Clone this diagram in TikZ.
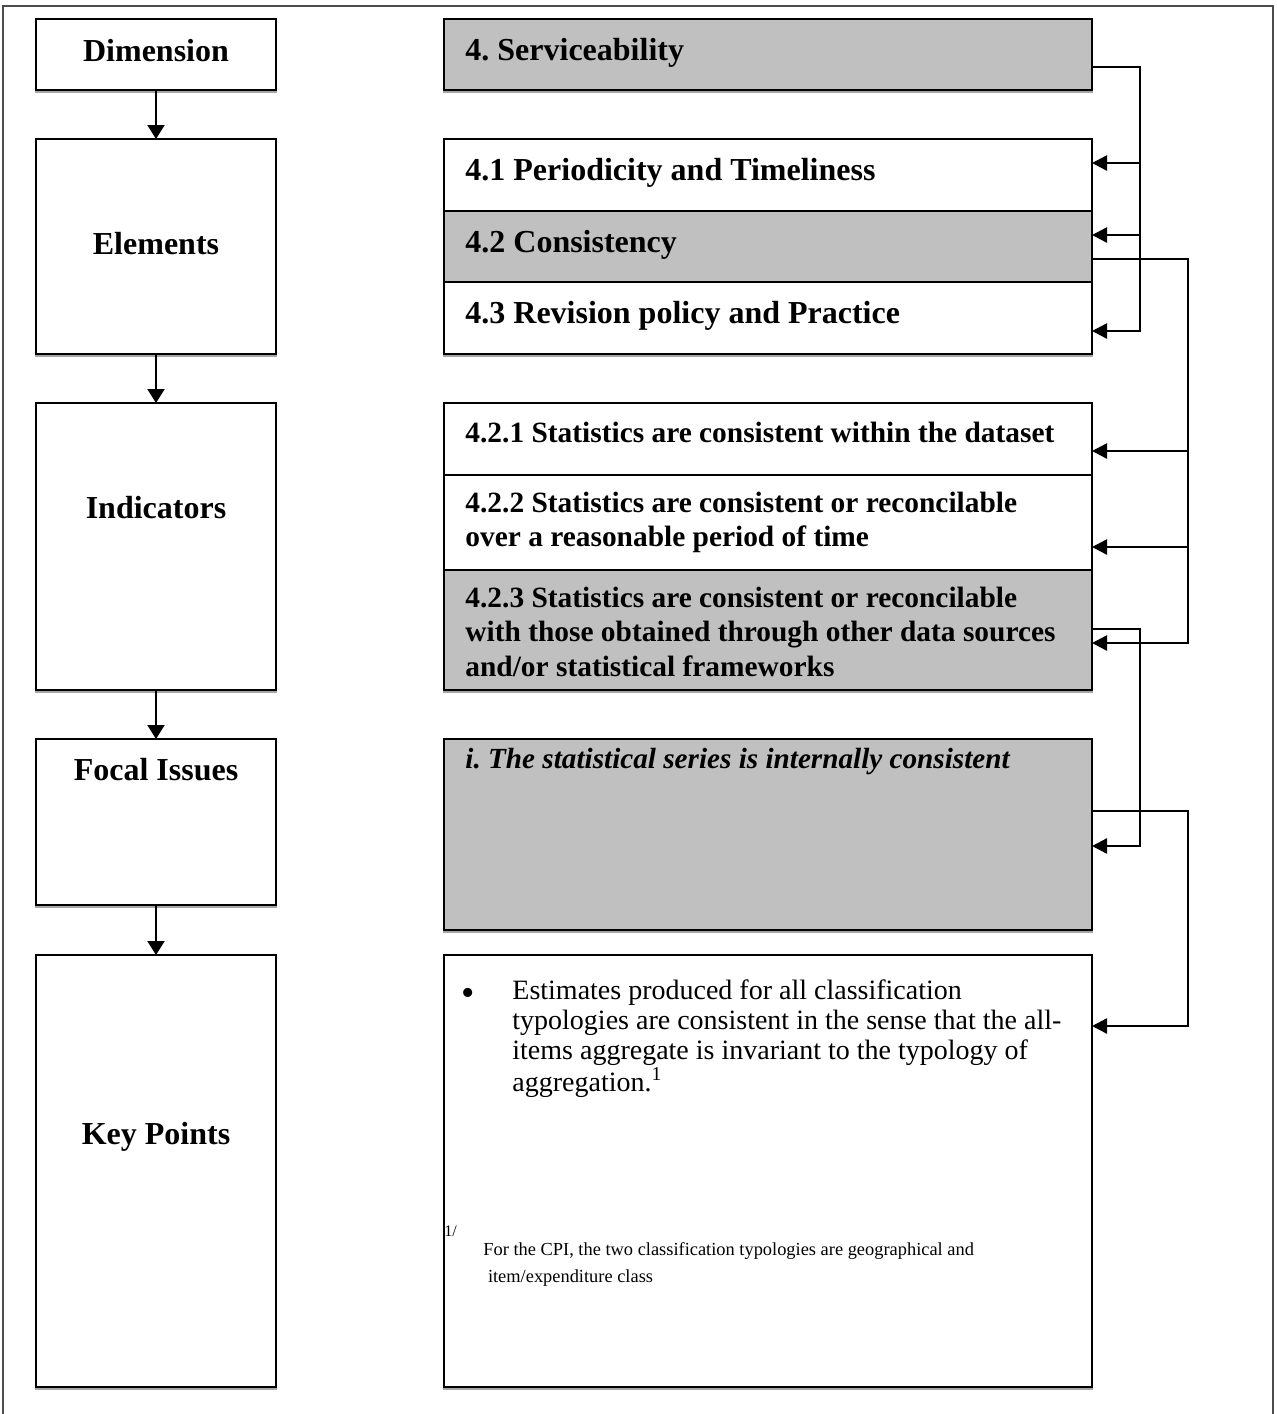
\documentclass[tikz,border=0pt]{standalone}
\usepackage{fontspec}
\setmainfont{Liberation Serif}
\usetikzlibrary{arrows.meta,calc}
\definecolor{boxgray}{RGB}{192,192,192}
\newcommand{\mlines}[1]{\begin{tabular}[t]{@{}l@{}}#1\end{tabular}}
\begin{document}
\begin{tikzpicture}[x=0.5pt,y=-0.5pt,
  box/.style={draw=black,fill=white,line width=1pt,inner sep=0pt,outer sep=0pt,anchor=north west,
    preaction={draw=black!35,line width=1pt,transform canvas={yshift=-1pt}}},
  lbox/.style={box,minimum width=120pt},
  rbox/.style={box,minimum width=324pt},
  shaded/.style={fill=boxgray},
  lab/.style={font=\fontsize{16}{19}\selectfont\bfseries,inner sep=0pt,anchor=base},
  ttl/.style={font=\fontsize{16}{19}\selectfont\bfseries,inner sep=0pt,anchor=base west},
  ind/.style={font=\fontsize{14.7}{17.3}\selectfont\bfseries,inner sep=0pt,anchor=base west},
  foctxt/.style={font=\fontsize{14.6}{17.3}\selectfont\bfseries\itshape,inner sep=0pt,anchor=base west},
  keytxt/.style={font=\fontsize{14}{15}\selectfont,inner sep=0pt,anchor=base west},
  notetxt/.style={font=\fontsize{9.2}{13.5}\selectfont,inner sep=0pt,anchor=base west},
  conn/.style={line width=1.2pt},
  arr/.style={conn,-{Triangle[length=7.5pt,width=7.5pt]}},
  darr/.style={line width=1pt,-{Triangle[length=7pt,width=8.5pt]}}
]
\useasboundingbox (0,0) rectangle (1276,1414);
% outer frame
\draw[line width=1pt,black!70] (3,1414) -- (3,6) -- (1273,6) -- (1273,1414);

% left column
\node[lbox,minimum height=35.5pt] (dim) at (36,19) {};
\node[lbox,minimum height=107.5pt] (ele) at (36,139) {};
\node[lbox,minimum height=143.5pt] (ind) at (36,403) {};
\node[lbox,minimum height=83pt] (foc) at (36,739) {};
\node[lbox,minimum height=216pt] (kp) at (36,955) {};

\node[lab] (ldim) at (156,61) {Dimension};
\node[lab] (lele) at (156,254) {Elements};
\node[lab] (lind) at (156,518) {Indicators};
\node[lab] (lfoc) at (156,780) {Focal Issues};
\node[lab] (lkp) at (156,1144) {Key Points};

\draw[darr] (dim.south) -- (ele.north);
\draw[darr] (ele.south) -- (ind.north);
\draw[darr] (ind.south) -- (foc.north);
\draw[darr] (foc.south) -- (kp.north);

% right column
\node[rbox,shaded,minimum height=35.5pt] (serv) at (444,19) {};
\node[rbox,minimum height=36pt] (e41) at (444,139) {};
\node[rbox,shaded,minimum height=35.5pt] (e42) at (444,211) {};
\node[rbox,minimum height=36pt] (e43) at (444,282) {};
\node[rbox,minimum height=36pt] (i421) at (444,403) {};
\node[rbox,minimum height=47.5pt] (i422) at (444,475) {};
\node[rbox,shaded,minimum height=60pt] (i423) at (444,570) {};
\node[rbox,shaded,minimum height=95.5pt] (fi) at (444,739) {};
\node[rbox,minimum height=216pt] (kpt) at (444,955) {};

\node[ttl] (tserv) at (465,60) {4.\ Serviceability};
\node[ttl] (t41) at (465,180) {4.1 Periodicity and Timeliness};
\node[ttl] (t42) at (465,252) {4.2 Consistency};
\node[ttl] (t43) at (465,323) {4.3 Revision policy and Practice};
\node[ind] (t421) at (465,442) {4.2.1 Statistics are consistent within the dataset};
\node[ind] (t422) at (465,512) {\mlines{4.2.2 Statistics are consistent or reconcilable\\over a reasonable period of time}};
\node[ind] (t423) at (465,607) {\mlines{4.2.3 Statistics are consistent or reconcilable\\with those obtained through other data sources\\and/or statistical frameworks}};
\node[foctxt] (tfi) at (465,768) {i.\ The statistical series is internally consistent};

\node[font=\fontsize{19}{19}\selectfont,inner sep=0pt,anchor=base] (bul) at (468,1005) {•};
\node[keytxt] (tkp) at (512,999) {\mlines{Estimates produced for all classification\\typologies are consistent in the sense that the all-\\items aggregate is invariant to the typology of\\aggregation.\textsuperscript{1}}};
\node[font=\fontsize{8}{9}\selectfont,inner sep=0pt,anchor=base west] (fnm) at (444,1236) {1/};
\node[notetxt] (fn) at (483,1255) {\mlines{For the CPI, the two classification typologies are geographical and\\\ item/expenditure class}};

% connectors
\draw[arr] ($(serv.north east)+(0,48)$) -| ($(e43.north east)+(48,49)$) -- ($(e43.north east)+(0,49)$);
\draw[arr] ($(e41.north east)+(48,24)$) -- ($(e41.north east)+(0,24)$);
\draw[arr] ($(e42.north east)+(48,24)$) -- ($(e42.north east)+(0,24)$);

\draw[arr] ($(e42.north east)+(0,48)$) -| ($(i423.north east)+(96,73)$) -- ($(i423.north east)+(0,73)$);
\draw[arr] ($(i421.north east)+(96,48)$) -- ($(i421.north east)+(0,48)$);
\draw[arr] ($(i422.north east)+(96,72)$) -- ($(i422.north east)+(0,72)$);

\draw[arr] ($(i423.north east)+(0,59)$) -| ($(fi.north east)+(48,107)$) -- ($(fi.north east)+(0,107)$);

\draw[arr] ($(fi.north east)+(0,72)$) -| ($(kpt.north east)+(96,71)$) -- ($(kpt.north east)+(0,71)$);
\end{tikzpicture}
\end{document}
